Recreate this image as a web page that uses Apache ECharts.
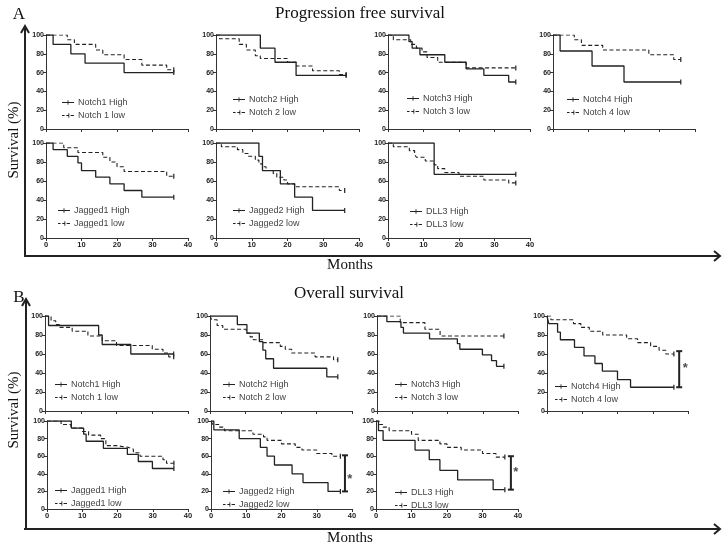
<!DOCTYPE html>
<html><head><meta charset="utf-8">
<script src="https://cdn.jsdelivr.net/npm/echarts@6/dist/echarts.min.js"></script>
<style>html,body{margin:0;padding:0;background:#fff}#c{width:727px;height:547px}</style>
</head><body><div id="c"></div>
<script>
// ---- Progression free survival (A) ----
const pfsNotch1High = [[0,100],[2,90],[7,80],[11,70],[22,60],[36,60]];
const pfsNotch1Low  = [[0,100],[6,95],[8,90],[14,84],[16,79],[22,74],[27,68],[34,63],[36,63]];
const pfsNotch2High = [[0,100],[12.4,86],[16.5,71],[22.4,57],[36.4,57]];
const pfsNotch2Low  = [[0,100],[1,96],[6.5,90],[8.5,84],[11,78],[12.4,75],[20,71],[22.5,67],[27,62],[34.5,58],[36.4,58]];
const pfsNotch3High = [[0,100],[5.9,93],[6.8,86],[9,79],[16,71],[22,64],[27,57],[34,50],[36,50]];
const pfsNotch3Low  = [[0,100],[1.5,95],[6.4,90],[8,86],[9.6,82],[11,76],[14,71],[22,65],[36,65]];
const pfsNotch4High = [[0,100],[2,83],[11,67],[20,50],[36,50]];
const pfsNotch4Low  = [[0,100],[6,95],[8,89],[14,84],[27,79],[34,74],[36,74]];
const pfsJagged1High = [[0,100],[2,93],[6,86],[9,79],[10,71],[14,64],[18,57],[22,50],[27,43],[36,43]];
const pfsJagged1Low  = [[0,100],[5,95],[9,90],[16,85],[18,80],[20,75],[22,70],[34,65],[36,65]];
const pfsJagged2High = [[0,100],[12,86],[13,71],[18,57],[22,43],[27,29],[36,29]];
const pfsJagged2Low  = [[0,100],[1.5,96],[6,93],[7.5,89],[9,86],[11,82],[12,78],[13,75],[14,71],[16,68],[17,64],[19,61],[20,57],[22,54],[34.5,50],[36,50]];
const pfsDLL3High = [[0,100],[13,67],[36,67]];
const pfsDLL3Low  = [[0,100],[1.5,96],[6,92],[7.5,88],[8,85],[10.5,81],[13,77],[14,73],[16,69],[20,65],[27,61],[34,58],[36,58]];
// ---- Overall survival (B) ----
const osNotch1High = [[0,100],[1,90],[15,80],[16,70],[24,60],[36,60]];
const osNotch1Low  = [[0,100],[1.7,95],[3,91],[4,88],[7.6,84],[12,79],[16,74],[20,69],[30,65],[33,61],[34.6,57],[36,57]];
const osNotch2High = [[0,100],[7.7,91],[10.4,82],[13.9,73],[14.9,64],[15.7,55],[17.9,45],[32.9,36],[36,36]];
const osNotch2Low  = [[0,100],[0.5,96],[2,90],[3.6,86],[10.2,82],[11.3,78],[12.2,75],[15,72],[19.8,68],[21.2,65],[23,61],[29.6,57],[34.8,54],[36,54]];
const osNotch3High = [[0,100],[2.8,94],[6.8,88],[7.5,82],[14.9,76],[22.8,71],[23.5,65],[29.9,59],[32.5,53],[33.9,47],[36,47]];
const osNotch3Low  = [[0,100],[6.6,93],[13.6,86],[17.9,79],[36,79]];
const osNotch4High = [[0,100],[0.5,92],[3,83],[3.8,75],[7.8,67],[10.5,58],[13.6,50],[15.7,42],[20,33],[23.7,25],[36,25]];
const osNotch4Low  = [[0,100],[1.1,96],[7.5,92],[9.6,88],[12,84],[15.8,80],[22.6,76],[25.7,72],[29.4,68],[31.8,64],[33.7,60],[36,60]];
const osJagged1High = [[0,100],[6.9,92],[10.4,85],[11.1,77],[16,69],[22.8,62],[25.9,54],[29.9,46],[36,46]];
const osJagged1Low  = [[0,100],[4,96],[6.8,92],[10,88],[11.8,84],[15.2,80],[16.7,72],[19.8,70],[23.1,68],[24.5,64],[26.4,60],[32.9,56],[33.9,52],[36,52]];
const osJagged2High = [[0,100],[0.8,90],[8,80],[14,70],[15.9,60],[18,50],[23,40],[26.1,30],[33.2,20],[36.7,20]];
const osJagged2Low  = [[0,100],[0.5,96],[2.2,93],[3.8,89],[11.9,85],[14.9,82],[15.9,78],[20,74],[23.9,70],[25.8,67],[30,63],[34.3,60],[36.7,60]];
const osDLL3High = [[0,100],[0.7,89],[2,78],[11,67],[15,56],[18,44],[23,33],[33,22],[36.3,22]];
const osDLL3Low  = [[0,100],[1,96],[2,93],[3.7,89],[10,85],[11.9,78],[18,74],[20,70],[24,67],[30,63],[33.8,59],[36.3,59]];
// significance brackets (x, top, bottom) and star positions
const osNotch4Bracket = [[37.5,63],[37.5,25]];
const osNotch4Star = [[39.2,45]];
const osJagged2Bracket = [[38,61],[38,20]];
const osJagged2Star = [[39.4,34]];
const osDLL3Bracket = [[38,60],[38,22]];
const osDLL3Star = [[39.4,42]];
const xTicks = [0,10,20,30,40];
const yTicks = [0,20,40,60,80,100];

const HIGH_ICON = 'path://M0,3h14v1h-14z M6.5,1h1v5h-1z';
const LOW_ICON = 'path://M0,3h3v1h-3z M5,3h3v1h-3z M10,3h4v1h-4z M7.5,1h1v5h-1z';

const panels = [
  {g:[46,35,142,94],  hi:pfsNotch1High, lo:pfsNotch1Low, n:['Notch1 High','Notch 1 low'], lg:[16,63], xl:false},
  {g:[216,35,143,94], hi:pfsNotch2High, lo:pfsNotch2Low, n:['Notch2 High','Notch 2 low'], lg:[17,60], xl:false},
  {g:[388,35,142,94], hi:pfsNotch3High, lo:pfsNotch3Low, n:['Notch3 High','Notch 3 low'], lg:[19,59], xl:false},
  {g:[553,35,142,94], hi:pfsNotch4High, lo:pfsNotch4Low, n:['Notch4 High','Notch 4 low'], lg:[14,60], xl:false},
  {g:[46,143,142,95], hi:pfsJagged1High, lo:pfsJagged1Low, n:['Jagged1 High','Jagged1 low'], lg:[12,63], xl:true},
  {g:[216,143,143,95],hi:pfsJagged2High, lo:pfsJagged2Low, n:['Jagged2 High','Jagged2 low'], lg:[17,63], xl:true},
  {g:[388,143,142,95],hi:pfsDLL3High, lo:pfsDLL3Low, n:['DLL3 High','DLL3 low'], lg:[22,64], xl:true},
  {g:[45,316,143,95], hi:osNotch1High, lo:osNotch1Low, n:['Notch1 High','Notch 1 low'], lg:[10,64], xl:false},
  {g:[210,316,142,95],hi:osNotch2High, lo:osNotch2Low, n:['Notch2 High','Notch 2 low'], lg:[13,64], xl:false},
  {g:[377,316,141,95],hi:osNotch3High, lo:osNotch3Low, n:['Notch3 High','Notch 3 low'], lg:[18,64], xl:false},
  {g:[547,316,141,95],hi:osNotch4High, lo:osNotch4Low, n:['Notch4 High','Notch 4 low'], lg:[8,66], xl:false, br:osNotch4Bracket, st:osNotch4Star},
  {g:[47,421,141,88], hi:osJagged1High, lo:osJagged1Low, n:['Jagged1 High','Jagged1 low'], lg:[8,65], xl:true},
  {g:[211,421,141,88],hi:osJagged2High, lo:osJagged2Low, n:['Jagged2 High','Jagged2 low'], lg:[12,66], xl:true, br:osJagged2Bracket, st:osJagged2Star},
  {g:[376,421,142,88],hi:osDLL3High, lo:osDLL3Low, n:['DLL3 High','DLL3 low'], lg:[19,67], xl:true, br:osDLL3Bracket, st:osDLL3Star}
];

const SANS = 'Liberation Sans, Arial, sans-serif';
const SERIF = 'Liberation Serif, Times New Roman, serif';
const AX = '#333';
const grid = [], xAxis = [], yAxis = [], series = [], legend = [];
panels.forEach((p, i) => {
  grid.push({left:p.g[0], top:p.g[1], width:p.g[2], height:p.g[3]});
  xAxis.push({gridIndex:i, type:'value', min:xTicks[0], max:xTicks[xTicks.length-1], interval:10,
    axisLine:{show:true, lineStyle:{color:AX, width:1}},
    axisTick:{show:true, length:3, lineStyle:{color:AX}},
    axisLabel:{show:p.xl, fontSize:7.5, fontWeight:'bold', color:'#222', fontFamily:SANS, margin:3},
    splitLine:{show:false}});
  yAxis.push({gridIndex:i, type:'value', min:yTicks[0], max:yTicks[yTicks.length-1], interval:20,
    axisLine:{show:true, lineStyle:{color:AX, width:1}},
    axisTick:{show:true, length:3, lineStyle:{color:AX}},
    axisLabel:{fontSize:7, fontWeight:'bold', color:'#222', fontFamily:SANS, margin:2},
    splitLine:{show:false}});
  const mk = (data, name, dashed) => ({
    type:'line', name, xAxisIndex:i, yAxisIndex:i, data, step:'end',
    symbol:'rect', showAllSymbol:true,
    symbolSize:(v, params) => params.dataIndex === data.length-1 ? [1.2,5] : 0,
    itemStyle:{color:'#222'},
    lineStyle:{color:'#222', width:dashed?1.1:1.3, type:dashed?[4,2.5]:'solid'},
    silent:true, z:3
  });
  series.push(mk(p.hi, p.n[0], false));
  series.push(mk(p.lo, p.n[1], true));
  if (p.br) {
    series.push({type:'line', xAxisIndex:i, yAxisIndex:i, data:p.br, symbol:'rect', symbolSize:[6,2],
      itemStyle:{color:'#222'}, lineStyle:{color:'#222', width:2}, silent:true});
    series.push({type:'scatter', xAxisIndex:i, yAxisIndex:i, data:p.st, symbol:'circle', symbolSize:1,
      itemStyle:{color:'rgba(0,0,0,0)'},
      label:{show:true, formatter:'*', position:'inside', fontSize:13, fontWeight:'bold', color:'#222', fontFamily:SANS}, silent:true});
  }
  legend.push({left:p.g[0]+p.lg[0], top:p.g[1]+p.lg[1], orient:'vertical', padding:0, itemGap:4,
    itemWidth:12, itemHeight:6, selectedMode:false,
    itemStyle:{borderWidth:0},
    textStyle:{fontSize:9, fontFamily:SANS, color:'#444', padding:[0,0,0,-1]},
    data:[{name:p.n[0], icon:HIGH_ICON}, {name:p.n[1], icon:LOW_ICON}]});
});

const L = {stroke:'#222', lineWidth:2};
const T = (x, y, text, size, extra) => Object.assign({type:'text', x, y,
  style:{text, fontSize:size, fontFamily:SERIF, fill:'#111', align:'center', verticalAlign:'middle'}}, extra||{});
const graphic = [
  // section A frame
  {type:'line', shape:{x1:25, y1:28, x2:25, y2:256}, style:L},
  {type:'polyline', shape:{points:[[21,33],[25,26],[29,33]]}, style:L},
  {type:'line', shape:{x1:24, y1:256, x2:719, y2:256}, style:L},
  {type:'polyline', shape:{points:[[714,251],[720,256],[714,261]]}, style:L},
  T(19, 15, 'A', 17),
  T(360, 14, 'Progression free survival', 17),
  T(350, 265, 'Months', 15),
  {type:'text', x:14, y:140, rotation:Math.PI/2,
    style:{text:'Survival (%)', fontSize:15, fontFamily:SERIF, fill:'#111', align:'center', verticalAlign:'middle'}},
  // section B frame
  {type:'line', shape:{x1:26, y1:301, x2:26, y2:529}, style:L},
  {type:'polyline', shape:{points:[[22,306],[26,299],[30,306]]}, style:L},
  {type:'line', shape:{x1:24, y1:529, x2:719, y2:529}, style:L},
  {type:'polyline', shape:{points:[[714,524],[720,529],[714,534]]}, style:L},
  T(19, 298, 'B', 17),
  T(349, 294, 'Overall survival', 17),
  T(350, 538, 'Months', 15),
  {type:'text', x:14, y:410, rotation:Math.PI/2,
    style:{text:'Survival (%)', fontSize:15, fontFamily:SERIF, fill:'#111', align:'center', verticalAlign:'middle'}}
];

const chart = echarts.init(document.getElementById('c'), null, {renderer:'canvas'});
chart.setOption({animation:false, backgroundColor:'#fff', grid, xAxis, yAxis, series, legend, graphic});
</script></body></html>
